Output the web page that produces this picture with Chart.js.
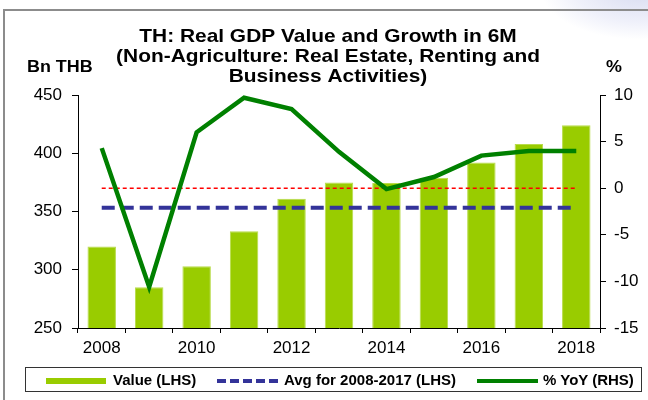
<!DOCTYPE html>
<html>
<head>
  <meta charset="UTF-8">
  <title>TH: Real GDP Value and Growth in 6M</title>
  <script src="https://cdn.jsdelivr.net/npm/chart.js"></script>
  <style>
    body {
      margin: 0;
      padding: 0;
      background: #fff;
      font-family: "Liberation Sans", Arial, sans-serif;
    }
    #wrap {
      position: relative;
      width: 648px;
      height: 400px;
      overflow: hidden;
    }
    #frame {
      position: absolute;
      left: 3px;
      top: 9px;
      width: 700px;
      height: 450px;
      border-left: 2px solid #8c8c8c;
      border-top: 2px solid #8c8c8c;
    }
    #glow {
      position: absolute;
      left: 540px;
      top: -60px;
      width: 200px;
      height: 100px;
      background: radial-gradient(ellipse at center, rgba(214,218,240,0.95) 0%, rgba(232,234,248,0.7) 45%, rgba(255,255,255,0) 70%);
    }
    #chart-container {
      position: absolute;
      left: 0;
      top: 0;
      width: 648px;
      height: 400px;
    }
    #legend {
      position: absolute;
      left: 25px;
      top: 367px;
      width: 617px;
      height: 25px;
      border: 1px solid #333;
      box-sizing: border-box;
      font: bold 15px "Liberation Sans", Arial, sans-serif;
      color: #000;
    }
    #legend .sw, #legend .tx {
      position: absolute;
    }
    #legend .tx {
      top: 3px;
      line-height: 17px;
      white-space: nowrap;
    }
  </style>
</head>
<body>
  <div id="wrap">
    <div id="glow"></div>
    <div id="frame"></div>
    <div id="chart-container">
      <canvas id="myChart"></canvas>
    </div>
    <div id="legend">
      <div class="sw" style="left:20px; top:10px; width:60px; height:6px; background:#99cc00;"></div>
      <div class="tx" style="left:87px;">Value (LHS)</div>
      <div class="sw" style="left:191px; top:11px; width:62px; height:4px; background:repeating-linear-gradient(90deg, #333399 0 9px, transparent 9px 13px);"></div>
      <div class="tx" style="left:258px;">Avg for 2008-2017 (LHS)</div>
      <div class="sw" style="left:451px; top:11px; width:61px; height:4px; background:#008000;"></div>
      <div class="tx" style="left:517px;">% YoY (RHS)</div>
    </div>
  </div>
  <script>
    const years = ['2008', '2009', '2010', '2011', '2012', '2013', '2014', '2015', '2016', '2017', '2018'];
    const valueLHS = [320, 285, 303, 333, 361, 375, 374.5, 379, 392, 408, 424];
    const avgLHS = 353.3; // Avg for 2008-2017
    const yoyRHS = [4.3, -10.6, 6.0, 9.7, 8.5, 3.9, -0.1, 1.2, 3.5, 4.0, 4.0];
    const zeroRHS = 0;
    const titleLines = ['TH: Real GDP Value and Growth in 6M', '(Non-Agriculture: Real Estate, Renting and', 'Business Activities)'];
    const leftTicks = [250, 300, 350, 400, 450];
    const rightTicks = [-15, -10, -5, 0, 5, 10];

    function stretchText(ctx, text, x, y, align, sx) {
      ctx.save();
      ctx.translate(x, y);
      ctx.scale(sx, 1);
      ctx.textAlign = align;
      ctx.fillText(text, 0, 0);
      ctx.restore();
    }

    // title and axis unit labels
    const headerText = {
      id: 'headerText',
      afterDraw(chart) {
        const ctx = chart.ctx;
        ctx.save();
        ctx.fillStyle = '#000';
        ctx.textBaseline = 'alphabetic';
        ctx.font = 'bold 19px "Liberation Sans", Arial, sans-serif';
        const baselines = [42, 62, 82];
        titleLines.forEach((line, i) => stretchText(ctx, line, 328, baselines[i], 'center', 1.1));
        ctx.font = 'bold 16px "Liberation Sans", Arial, sans-serif';
        stretchText(ctx, 'Bn THB', 27, 72, 'left', 1.12);
        stretchText(ctx, '%', 606, 72, 'left', 1.12);
        ctx.restore();
      }
    };

    const tickFont = { family: '"Liberation Sans", Arial, sans-serif', size: 17 };

    const ctx = document.getElementById('myChart').getContext('2d');
    window.myChart = new Chart(ctx, {
      type: 'bar',
      data: {
        labels: years,
        datasets: [
          {
            type: 'line',
            label: '% YoY (RHS)',
            data: yoyRHS,
            yAxisID: 'y2',
            borderColor: '#008000',
            borderWidth: 4.5,
            pointRadius: 0,
            tension: 0,
            fill: false,
            order: 1
          },
          {
            type: 'line',
            label: 'Avg for 2008-2017 (LHS)',
            data: years.map(() => avgLHS),
            yAxisID: 'y',
            borderColor: '#333399',
            borderWidth: 4,
            borderDash: [13, 6],
            pointRadius: 0,
            fill: false,
            order: 2
          },
          {
            type: 'line',
            label: 'zero',
            data: years.map(() => zeroRHS),
            yAxisID: 'y2',
            borderColor: '#ff0000',
            borderWidth: 1.5,
            borderDash: [4, 3],
            pointRadius: 0,
            fill: false,
            order: 3
          },
          {
            label: 'Value (LHS)',
            data: valueLHS,
            yAxisID: 'y',
            backgroundColor: '#99cc00',
            borderColor: '#b8dc4a',
            borderWidth: 1,
            barPercentage: 0.6,
            categoryPercentage: 1,
            order: 4
          }
        ]
      },
      options: {
        responsive: true,
        maintainAspectRatio: false,
        animation: false,
        layout: { padding: { top: 95, left: 0, right: 0, bottom: 0 } },
        plugins: {
          legend: { display: false },
          title: { display: false },
          tooltip: { enabled: false }
        },
        scales: {
          x: {
            offset: true,
            grid: { offset: true, drawOnChartArea: false, drawTicks: true, tickLength: 5, tickColor: '#000' },
            border: { color: '#000', width: 1 },
            ticks: {
              autoSkip: false,
              maxRotation: 0,
              padding: 5,
              color: '#000',
              font: tickFont,
              callback: (v, i) => (i % 2 === 0 ? years[i] : '')
            },
            afterFit: s => { s.height = 72; }
          },
          y: {
            position: 'left',
            min: leftTicks[0],
            max: leftTicks[leftTicks.length - 1],
            afterBuildTicks: s => { s.ticks = leftTicks.map(v => ({ value: v })); },
            grid: { drawOnChartArea: false, drawTicks: true, tickLength: 6, tickColor: '#000' },
            border: { color: '#000', width: 1 },
            ticks: { padding: 10, color: '#000', font: tickFont },
            afterFit: s => { s.width = 78; }
          },
          y2: {
            position: 'right',
            min: rightTicks[0],
            max: rightTicks[rightTicks.length - 1],
            afterBuildTicks: s => { s.ticks = rightTicks.map(v => ({ value: v })); },
            grid: { drawOnChartArea: false, drawTicks: true, tickLength: 6, tickColor: '#000' },
            border: { color: '#000', width: 1 },
            ticks: { padding: 8, color: '#000', font: tickFont },
            afterFit: s => { s.width = 48; }
          }
        }
      },
      plugins: [headerText]
    });
  </script>
</body>
</html>
